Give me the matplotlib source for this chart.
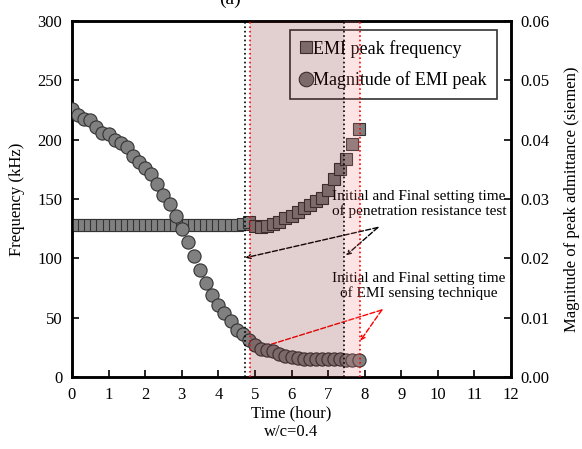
import matplotlib
matplotlib.use("Agg")
import matplotlib.pyplot as plt
import numpy as np

plt.rcParams['font.family'] = ['Liberation Serif', 'DejaVu Serif']
plt.rcParams['mathtext.fontset'] = 'stix'

# time in minutes (10-minute sampling)
time_min = [0, 10, 20, 30, 40, 50, 60, 70, 80, 90, 100, 110, 120, 130, 140, 150,
            160, 170, 180, 190, 200, 210, 220, 230, 240, 250, 260, 270, 280, 290,
            300, 310, 320, 330, 340, 350, 360, 370, 380, 390, 400, 410, 420, 430,
            440, 450, 460, 470]

# EMI peak frequency (kHz)
peak_freq = [128, 128, 128, 128, 128, 128, 128, 128, 128, 128, 128, 128, 128, 128,
             128, 128, 128, 128, 128, 128, 128, 128, 128, 128, 128, 128, 128, 128,
             129, 131, 127, 126, 127, 129, 131, 134, 136, 139, 142, 145, 148, 151,
             158, 167, 175, 184, 196, 209]

# Magnitude of EMI peak (siemen)
peak_mag = [0.0452, 0.0441, 0.0435, 0.0433, 0.0422, 0.0412, 0.0409, 0.0399,
            0.0394, 0.0387, 0.0372, 0.0362, 0.0353, 0.0342, 0.0326, 0.0306,
            0.0291, 0.0271, 0.0250, 0.0227, 0.0204, 0.0180, 0.0158, 0.0139,
            0.0121, 0.0108, 0.0094, 0.0079, 0.0072, 0.0062, 0.0054, 0.0048,
            0.0045, 0.0043, 0.0039, 0.0035, 0.0033, 0.0032, 0.0031, 0.0031,
            0.0030, 0.0030, 0.0030, 0.0030, 0.0030, 0.0029, 0.0029, 0.0029]

# setting times (hour)
pen_initial, pen_final = 4.74, 7.44
emi_initial, emi_final = 4.86, 7.88

x_ticks = [0, 1, 2, 3, 4, 5, 6, 7, 8, 9, 10, 11, 12]
y_left_ticks = [0, 50, 100, 150, 200, 250, 300]
y_right_ticks = [0.00, 0.01, 0.02, 0.03, 0.04, 0.05, 0.06]

time_h = np.array(time_min) / 60.0

fig = plt.figure(figsize=(5.82, 4.49), dpi=100)
ax1 = fig.add_axes([72/582, 1-377/449, (511-72)/582, (377-21)/449])
ax2 = ax1.twinx()

fs = 12
sq, = ax1.plot(time_h, peak_freq, linestyle='none', marker='s', markersize=8,
               markerfacecolor='#808080', markeredgecolor='#333333', markeredgewidth=0.8,
               label='EMI peak frequency', zorder=3)
ci, = ax2.plot(time_h, peak_mag, linestyle='none', marker='o', markersize=9.5,
               markerfacecolor='#808080', markeredgecolor='#333333', markeredgewidth=0.8,
               label='Magnitude of EMI peak', zorder=3)

ax1.set_xlim(0, 12)
ax1.set_ylim(0, 300)
ax2.set_ylim(0, 0.06)
ax1.set_xticks(x_ticks)
ax1.set_yticks(y_left_ticks)
ax2.set_yticks(y_right_ticks)
ax2.set_yticklabels([f"{v:.2f}" for v in y_right_ticks])

for ax in (ax1, ax2):
    for s in ax.spines.values():
        s.set_linewidth(1.8)
    ax.tick_params(direction='in', length=5, width=1.2, labelsize=fs)
ax1.tick_params(axis='x', pad=7)
ax1.tick_params(axis='y', pad=7)
ax2.tick_params(axis='y', pad=7)

ax1.set_ylabel('Frequency (kHz)', fontsize=fs, labelpad=9)
ax2.set_ylabel('Magnitude of peak admittance (siemen)', fontsize=fs, labelpad=10)
ax1.set_xlabel('Time (hour)\nw/c=0.4', fontsize=fs, linespacing=1.25, labelpad=2)

leg = ax1.legend(handles=[sq, ci], loc='upper right', bbox_to_anchor=(0.976, 0.985),
                 fontsize=13, frameon=True, fancybox=False, edgecolor='black',
                 facecolor='none', framealpha=None, handlelength=0.7, handletextpad=0.05,
                 labelspacing=0.75, borderpad=0.55, borderaxespad=0.2, markerscale=1.1)
leg.get_frame().set_linewidth(1.2)

# shaded regions (drawn on top with transparency)
ax2.axvspan(emi_initial, pen_final, color='#6e1414', alpha=0.2, lw=0, zorder=10)
ax2.axvspan(pen_final, emi_final, color='#f57878', alpha=0.2, lw=0, zorder=10)

for xv in (pen_initial, pen_final):
    ax2.axvline(xv, color='black', linestyle=':', linewidth=1.2, zorder=11)
for xv in (emi_initial, emi_final):
    ax2.axvline(xv, color='red', linestyle=':', linewidth=1.2, zorder=11)

# annotations
ax1.text(9.48, 146, 'Initial and Final setting time\nof penetration resistance test',
         ha='center', va='center', fontsize=11, linespacing=1.1, zorder=12)
ax1.text(9.48, 77, 'Initial and Final setting time\nof EMI sensing technique',
         ha='center', va='center', fontsize=11, linespacing=1.1, zorder=12)

for tx, ty in ((pen_initial, 100.5), (7.49, 102.5)):
    ax1.annotate('', xy=(tx, ty), xytext=(8.36, 126),
                 arrowprops=dict(arrowstyle='->', linestyle='--', color='black', lw=1.0,
                                 shrinkA=0, shrinkB=0, mutation_scale=7), zorder=12)
for tx, ty in ((emi_initial, 22), (emi_final, 30.5)):
    ax1.annotate('', xy=(tx, ty), xytext=(8.47, 56.5),
                 arrowprops=dict(arrowstyle='->', linestyle='--', color='red', lw=1.0,
                                 shrinkA=0, shrinkB=0, mutation_scale=7), zorder=12)

fig.text(230/582, 1-4/449, '(a)', ha='center', va='baseline', fontsize=14)

fig.savefig('out.png', dpi=100)
